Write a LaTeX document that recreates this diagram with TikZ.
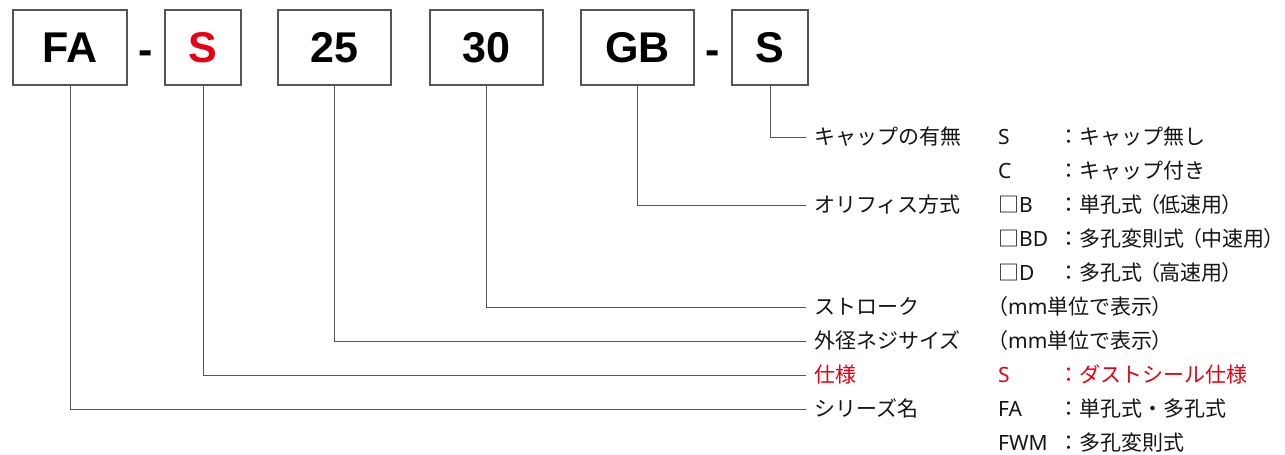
\documentclass[tikz,border=0pt]{standalone}
\usepackage{fontspec}
\setmainfont{Liberation Sans}
\newfontfamily\jp{Noto Sans CJK JP}
\newfontfamily\lt{Noto Sans}
\definecolor{myred}{RGB}{230,0,18}
\definecolor{lineg}{RGB}{85,85,85}
\definecolor{txt}{RGB}{20,20,20}
\newcommand\jlp{\kern-3pt（\kern-1pt}
\newcommand\jrp{\kern-1pt）}
\begin{document}
\begin{tikzpicture}[x=1pt,y=-1pt,
  codebox/.style={draw=lineg,line width=1.3pt,fill=white,minimum height=75pt,inner sep=0pt,
    font=\fontsize{43}{43}\selectfont\bfseries,text=black},
  dashtxt/.style={anchor=base,inner sep=0pt,font=\fontsize{43}{43}\selectfont\bfseries,text=black},
  lbl/.style={anchor=west,inner xsep=8pt,inner ysep=0pt,font=\jp\fontsize{21}{21}\selectfont,
    text=txt,text height=18pt,text depth=2.5pt},
  val/.style={lbl,inner xsep=0pt},
  conn/.style={draw=lineg,line width=1pt}]
\fill[white] (0,0) rectangle (1285,455);
\useasboundingbox (0,0) rectangle (1285,455);

% code boxes
\node[codebox,minimum width=114pt] (fa) at (70,47.5) {FA};
\node[dashtxt] (d1) at (146,64) {-};
\node[codebox,minimum width=76pt,text=myred] (sp) at (203,47.5) {S};
\node[codebox,minimum width=113pt] (dia) at (334.5,47.5) {25};
\node[codebox,minimum width=113pt] (st) at (486.5,47.5) {30};
\node[codebox,minimum width=113pt] (gb) at (637.5,47.5) {GB};
\node[dashtxt] (d2) at (713,64) {-};
\node[codebox,minimum width=76pt] (cp) at (770,47.5) {S};

% labels
\node[lbl] (lcap) at (806,137) {キャップの有無};
\node[lbl] (lori) at (806,205) {オリフィス方式};
\node[lbl] (lst) at (806,307) {ストローク};
\node[lbl] (ldia) at (806,341) {外径ネジサイズ};
\node[lbl,text=myred] (lsp) at (806,375) {仕様};
\node[lbl] (lser) at (806,409) {シリーズ名};

% values
\node[val] (vcapS) at (998,137) {{\lt S}};
\node[val] (vcapC) at (998,171) {{\lt C}};
\node[val] (voriB) at (998,205) {□{\lt B}};
\node[val] (voriBD) at (998,239) {□{\lt BD}};
\node[val] (voriD) at (998,273) {□{\lt D}};
\node[val] (vst) at (987,307) {（{\lt mm}単位で表示\jrp};
\node[val] (vdia) at (987,341) {（{\lt mm}単位で表示\jrp};
\node[val,text=myred] (vsp) at (998,375) {{\lt S}};
\node[val] (vserFA) at (998,409) {{\lt FA}};
\node[val] (vserFWM) at (998,443) {{\lt FWM}};

% descriptions
\node[val] (dcapS) at (1058,137) {：キャップ無し};
\node[val] (dcapC) at (1058,171) {：キャップ付き};
\node[val] (doriB) at (1058,205) {：単孔式\jlp 低速用\jrp};
\node[val] (doriBD) at (1058,239) {：多孔変則式\jlp 中速用\jrp};
\node[val] (doriD) at (1058,273) {：多孔式\jlp 高速用\jrp};
\node[val,text=myred] (dsp) at (1058,375) {：ダストシール仕様};
\node[val] (dserFA) at (1058,409) {：単孔式・多孔式};
\node[val] (dserFWM) at (1058,443) {：多孔変則式};

% connectors
\draw[conn] (cp.south) |- (lcap.west);
\draw[conn] (gb.south) |- (lori.west);
\draw[conn] (st.south) |- (lst.west);
\draw[conn] (dia.south) |- (ldia.west);
\draw[conn] (sp.south) |- (lsp.west);
\draw[conn] (fa.south) |- (lser.west);
\end{tikzpicture}
\end{document}
